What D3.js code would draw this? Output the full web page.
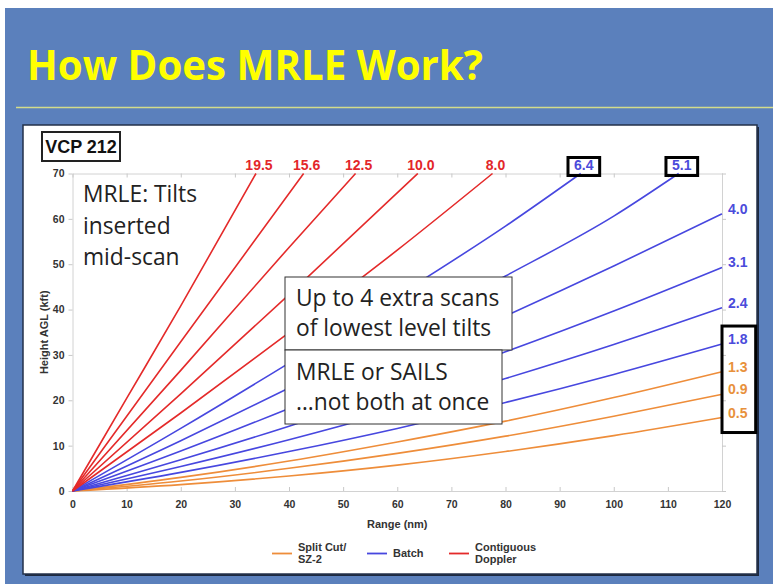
<!DOCTYPE html>
<html>
<head>
<meta charset="utf-8">
<script src="https://cdn.jsdelivr.net/npm/d3@7"></script>
<style>
  html, body { margin: 0; padding: 0; background: #fff; }
  svg { display: block; }
</style>
</head>
<body>
<div id="chart"></div>
<script>
// Beam height for each tilt: [range (nm), height AGL (kft)]
const beam05  = [[0, 0], [20, 1.4], [40, 3.3], [60, 5.7], [80, 8.7], [100, 12.2], [120, 16.2]];
const beam09  = [[0, 0], [20, 2.2], [40, 5.0], [60, 8.3], [80, 12.1], [100, 16.5], [120, 21.3]];
const beam13  = [[0, 0], [20, 3.0], [40, 6.6], [60, 10.8], [80, 15.4], [100, 20.6], [120, 26.3]];
const beam18  = [[0, 0], [20, 4.1], [40, 8.7], [60, 13.8], [80, 19.5], [100, 25.7], [120, 32.4]];
const beam24  = [[0, 0], [20, 5.4], [40, 11.3], [60, 17.8], [80, 24.8], [100, 32.3], [120, 40.4]];
const beam31  = [[0, 0], [20, 6.9], [40, 14.3], [60, 22.2], [80, 30.7], [100, 39.7], [120, 49.3]];
const beam40  = [[0, 0], [20, 8.8], [40, 18.2], [60, 28.1], [80, 38.6], [100, 49.6], [120, 61.1]];
const beam51  = [[0, 0], [20, 11.1], [40, 22.7], [60, 34.8], [80, 47.4], [100, 60.6], [112, 70]];
const beam64  = [[0, 0], [20, 13.8], [40, 28.2], [60, 43.0], [80, 58.4], [93.9, 70]];
const beam80  = [[0, 0], [20, 17.2], [40, 34.9], [60, 53.1], [77.6, 70]];
const beam100 = [[0, 0], [20, 21.4], [40, 43.3], [63.8, 70]];
const beam125 = [[0, 0], [20, 26.6], [40, 53.7], [52.3, 70]];
const beam156 = [[0, 0], [20, 32.9], [42.7, 70]];
const beam195 = [[0, 0], [10, 20.4], [20, 40.8], [33.9, 70]];

const splitCutTilts   = ['0.5', '0.9', '1.3'];
const batchTilts      = ['1.8', '2.4', '3.1', '4.0', '5.1', '6.4'];
const contiguousTilts = ['8.0', '10.0', '12.5', '15.6', '19.5'];

// tilts that get a black box round their label
const boxedTopTilts   = ['6.4', '5.1'];
const boxedRightTilts = ['1.8', '1.3', '0.9', '0.5'];

const xTicks = [0, 10, 20, 30, 40, 50, 60, 70, 80, 90, 100, 110, 120];
const yTicks = [0, 10, 20, 30, 40, 50, 60, 70];

const legendLabels = [['Split Cut/', 'SZ-2'], ['Batch'], ['Contiguous', 'Doppler']];

const noteTilts = ['MRLE: Tilts', 'inserted', 'mid-scan'];
const noteExtra = ['Up to 4 extra scans', 'of lowest level tilts'];
const noteSails = ['MRLE or SAILS', '\u2026not both at once'];

// table used for drawing
const beamByTilt = {
    '0.5': beam05, '0.9': beam09, '1.3': beam13, '1.8': beam18, '2.4': beam24,
    '3.1': beam31, '4.0': beam40, '5.1': beam51, '6.4': beam64, '8.0': beam80,
    '10.0': beam100, '12.5': beam125, '15.6': beam156, '19.5': beam195
};
const groups = [
    { key: 'split', tilts: splitCutTilts, color: '#ee8d3a', text: '#e8913c' },
    { key: 'batch', tilts: batchTilts, color: '#4747df', text: '#4b4bdb' },
    { key: 'contig', tilts: contiguousTilts, color: '#e42a2a', text: '#e3262a' }
];
const tiltTable = [];
groups.forEach(g => g.tilts.forEach(t => tiltTable.push({ tilt: t, group: g, pts: beamByTilt[t] })));

const W = 773, H = 584;
const LABEL_FONT = 'Liberation Sans, Arial, Helvetica, sans-serif';
const NOTE_FONT = 'Open Sans, sans-serif';

const svg = d3.select('#chart').append('svg')
    .attr('width', W)
    .attr('height', H);

// Slide background and title
svg.append('rect')
    .attr('x', 5).attr('y', 8)
    .attr('width', W - 5).attr('height', H - 8)
    .attr('fill', '#5b80bc');

svg.append('text')
    .attr('x', 27).attr('y', 80)
    .attr('font-family', NOTE_FONT)
    .attr('font-weight', 700)
    .attr('font-size', 42)
    .attr('fill', '#ffff00')
    .attr('textLength', 456)
    .attr('lengthAdjust', 'spacingAndGlyphs')
    .text('How Does MRLE Work?');

svg.append('line')
    .attr('x1', 16).attr('x2', W)
    .attr('y1', 107.5).attr('y2', 107.5)
    .attr('stroke', '#d3dc8a')
    .attr('stroke-width', 1.5);

// White chart panel
svg.append('rect')
    .attr('x', 25).attr('y', 127)
    .attr('width', 734).attr('height', 449)
    .attr('fill', '#1c2940');
svg.append('rect')
    .attr('x', 23).attr('y', 125)
    .attr('width', 734).attr('height', 449)
    .attr('fill', '#fff')
    .attr('stroke', '#23304a')
    .attr('stroke-width', 1.5);

const x = d3.scaleLinear().domain([0, 120]).range([72.5, 722]);
const y = d3.scaleLinear().domain([0, 70]).range([491, 173.5]);

// Frame and axes
const styleAxis = g => {
    g.select('.domain').attr('stroke', '#d2d2d2');
    g.selectAll('.tick line').attr('stroke', '#c8c8c8');
    g.selectAll('.tick text')
        .attr('fill', '#333')
        .attr('font-family', LABEL_FONT)
        .attr('font-weight', 700)
        .attr('font-size', 10.5);
};

svg.append('g')
    .attr('transform', `translate(${x(0)},0)`)
    .call(d3.axisLeft(y).tickValues(yTicks).tickSizeInner(4).tickSizeOuter(0).tickPadding(4))
    .call(styleAxis);

svg.append('g')
    .attr('transform', `translate(0,${y(0)})`)
    .call(d3.axisBottom(x).tickValues(xTicks).tickSizeInner(-4).tickSizeOuter(0).tickPadding(10))
    .call(styleAxis);

svg.append('g')
    .attr('transform', `translate(0,${y(70)})`)
    .call(d3.axisTop(x).tickValues(xTicks).tickSizeInner(-4).tickSizeOuter(0).tickFormat(''))
    .call(styleAxis);

svg.append('g')
    .attr('transform', `translate(${x(120)},0)`)
    .call(d3.axisRight(y).tickValues(yTicks).tickSizeInner(4).tickSizeOuter(0).tickFormat(''))
    .call(styleAxis);

// Axis titles
svg.append('text')
    .attr('x', (x(0) + x(120)) / 2).attr('y', 528)
    .attr('text-anchor', 'middle')
    .attr('font-family', LABEL_FONT)
    .attr('font-weight', 700)
    .attr('font-size', 11)
    .attr('fill', '#333')
    .text('Range (nm)');

svg.append('text')
    .attr('transform', `translate(48,${(y(0) + y(70)) / 2}) rotate(-90)`)
    .attr('text-anchor', 'middle')
    .attr('font-family', LABEL_FONT)
    .attr('font-weight', 700)
    .attr('font-size', 11)
    .attr('fill', '#333')
    .text('Height AGL (kft)');

// Beam lines
const line = d3.line()
    .x(d => x(d[0]))
    .y(d => y(d[1]))
    .curve(d3.curveMonotoneX);

svg.append('g')
    .selectAll('path')
    .data(tiltTable)
    .join('path')
    .attr('d', d => line(d.pts))
    .attr('fill', 'none')
    .attr('stroke', d => d.group.color)
    .attr('stroke-width', 1.6);

// Tilt labels: at the top if the beam leaves through 70 kft, else on the right
const labels = svg.append('g')
    .attr('font-family', LABEL_FONT)
    .attr('font-weight', 700)
    .attr('font-size', 14);

tiltTable.forEach(d => {
    const end = d.pts[d.pts.length - 1];
    const t = labels.append('text')
        .attr('fill', d.group.text)
        .text(d.tilt);
    if (end[1] >= 70) {
        t.attr('x', x(end[0]) + 3)
            .attr('y', y(70) - 4)
            .attr('text-anchor', 'middle');
    } else {
        t.attr('x', x(120) + 6)
            .attr('y', y(end[1]) - 5)
            .attr('dominant-baseline', 'central');
    }
    d.labelNode = t.node();
});

// Black highlight boxes
tiltTable.filter(d => boxedTopTilts.includes(d.tilt)).forEach(d => {
    const b = d.labelNode.getBBox();
    svg.append('rect')
        .attr('x', b.x - 6).attr('y', b.y + 1)
        .attr('width', b.width + 12).attr('height', b.height + 2)
        .attr('fill', 'none')
        .attr('stroke', '#000')
        .attr('stroke-width', 3);
});

const rightBoxes = tiltTable.filter(d => boxedRightTilts.includes(d.tilt)).map(d => d.labelNode.getBBox());
const rTop = d3.min(rightBoxes, b => b.y);
const rBottom = d3.max(rightBoxes, b => b.y + b.height);
const rRight = d3.max(rightBoxes, b => b.x + b.width);
svg.append('rect')
    .attr('x', x(120)).attr('y', rTop - 5)
    .attr('width', rRight + 8 - x(120)).attr('height', rBottom - rTop + 17)
    .attr('fill', 'none')
    .attr('stroke', '#000')
    .attr('stroke-width', 3);

// VCP label
svg.append('rect')
    .attr('x', 42).attr('y', 132)
    .attr('width', 78).attr('height', 29)
    .attr('fill', '#fff')
    .attr('stroke', '#222')
    .attr('stroke-width', 2);
svg.append('text')
    .attr('x', 81).attr('y', 153)
    .attr('text-anchor', 'middle')
    .attr('font-family', LABEL_FONT)
    .attr('font-weight', 700)
    .attr('font-size', 18)
    .attr('fill', '#111')
    .text('VCP 212');

// Annotation text and boxes
function noteLines(lines, x0, y0, step) {
    svg.append('g')
        .selectAll('text')
        .data(lines)
        .join('text')
        .attr('x', x0)
        .attr('y', (d, i) => y0 + i * step)
        .attr('font-family', NOTE_FONT)
        .attr('font-size', 22.8)
        .attr('fill', '#222')
        .text(d => d);
}

noteLines(noteTilts, 83, 202, 31.5);

svg.append('rect')
    .attr('x', 285).attr('y', 277)
    .attr('width', 227).attr('height', 73)
    .attr('fill', '#fff').attr('stroke', '#333').attr('stroke-width', 1);
noteLines(noteExtra, 296, 306, 30);

svg.append('rect')
    .attr('x', 285).attr('y', 350)
    .attr('width', 217).attr('height', 74)
    .attr('fill', '#fff').attr('stroke', '#333').attr('stroke-width', 1);
noteLines(noteSails, 296, 380, 30);

// Legend
const legendX = [272, 367, 449];
const legend = svg.append('g')
    .attr('font-family', LABEL_FONT)
    .attr('font-weight', 700)
    .attr('font-size', 11)
    .attr('fill', '#333');

legendLabels.forEach((lines, i) => {
    const lx = legendX[i];
    legend.append('line')
        .attr('x1', lx).attr('x2', lx + 20)
        .attr('y1', 553.5).attr('y2', 553.5)
        .attr('stroke', groups[i].color)
        .attr('stroke-width', 1.8);
    lines.forEach((t, j) => {
        legend.append('text')
            .attr('x', lx + 26)
            .attr('y', 553 + (j - (lines.length - 1) / 2) * 12.5)
            .attr('dominant-baseline', 'central')
            .text(t);
    });
});
</script>
</body>
</html>
